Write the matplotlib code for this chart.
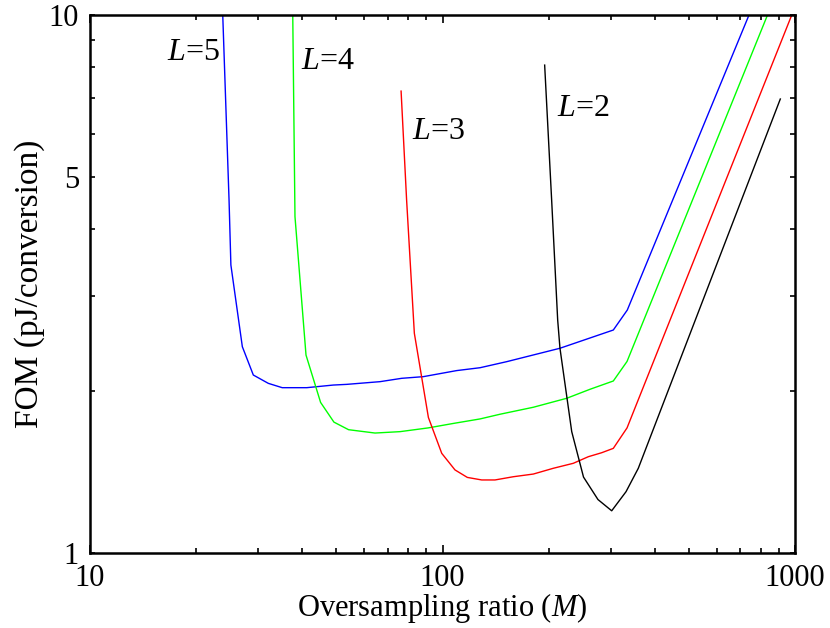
import matplotlib
matplotlib.use("Agg")
import matplotlib.pyplot as plt
from matplotlib.ticker import FixedLocator, NullFormatter, FixedFormatter

plt.rcParams['font.family'] = ['Liberation Serif', 'DejaVu Serif']
plt.rcParams['mathtext.fontset'] = 'custom'
plt.rcParams['mathtext.rm'] = 'Liberation Serif'
plt.rcParams['mathtext.it'] = 'Liberation Serif:italic'

# ---- data ----
m_L5 = [23.8, 24.8, 25.1, 27.05, 29.06, 32.05, 35.1, 41.2, 49.0, 53.5, 66.5, 76.6, 88.2,
        109.7, 127.8, 152.1, 215.4, 305.2, 334.4, 740.5]
fom_L5 = [10.0, 4.53, 3.43, 2.418, 2.142, 2.067, 2.029, 2.029, 2.052, 2.058, 2.082, 2.112, 2.127,
          2.183, 2.21, 2.268, 2.402, 2.597, 2.829, 10.0]

m_L4 = [37.6, 38.15, 41.0, 45.1, 49.2, 54.15, 64.35, 75.8, 91.0, 107.3, 127.8, 145.6, 181.0,
        225.1, 262.0, 305.2, 333.8, 835.6]
fom_L4 = [10.0, 4.22, 2.333, 1.905, 1.751, 1.695, 1.671, 1.681, 1.708, 1.741, 1.775, 1.811, 1.866,
          1.939, 2.015, 2.088, 2.27, 10.0]

m_L3 = [76.3, 79.1, 83.2, 91.2, 99.5, 108.5, 117.6, 129.2, 140.9, 158.8, 181.0, 206.2, 235.0,
        259.2, 282.9, 305.2, 333.8, 985.0]
fom_L3 = [7.22, 4.53, 2.561, 1.786, 1.532, 1.427, 1.382, 1.367, 1.367, 1.386, 1.402, 1.437, 1.468,
          1.510, 1.536, 1.565, 1.708, 10.1]

m_L2 = [194.9, 204.0, 212.2, 215.4, 232.6, 251.2, 276.1, 302.0, 331.6, 359.3, 908.5]
fom_L2 = [8.07, 4.53, 2.711, 2.402, 1.681, 1.384, 1.257, 1.198, 1.300, 1.437, 6.98]

series = [(m_L5, fom_L5, '#0000ff'), (m_L4, fom_L4, '#00ff00'),
          (m_L3, fom_L3, '#ff0000'), (m_L2, fom_L2, '#000000')]

labels = [r'$L$=5', r'$L$=4', r'$L$=3', r'$L$=2']
label_pos = [(0.147, 0.931), (0.3376, 0.914), (0.4936, 0.784), (0.6993, 0.827)]

x_major = [10, 100, 1000]
x_minor = [20, 30, 40, 50, 60, 70, 80, 90, 200, 300, 400, 500, 600, 700, 800, 900]
y_major = [1, 5, 10]
y_minor = [2, 3, 4, 6, 7, 8, 9]

# ---- figure ----
fig = plt.figure(figsize=(8.3, 6.28), dpi=100)
ax = fig.add_axes([90/830, 1-553/628, 705/830, 538/628])

for m, f, c in series:
    ax.plot(m, f, color=c, lw=1.0)

ax.set_xscale('log')
ax.set_yscale('log')
ax.set_xlim(10, 1000)
ax.set_ylim(1, 10)

ax.xaxis.set_major_locator(FixedLocator(x_major))
ax.xaxis.set_major_formatter(FixedFormatter([str(v) for v in x_major]))
ax.xaxis.set_minor_locator(FixedLocator(x_minor))
ax.xaxis.set_minor_formatter(NullFormatter())
ax.yaxis.set_major_locator(FixedLocator(y_major))
ax.yaxis.set_major_formatter(FixedFormatter([str(v) for v in y_major]))
ax.yaxis.set_minor_locator(FixedLocator(y_minor))
ax.yaxis.set_minor_formatter(NullFormatter())

ax.tick_params(axis='both', which='both', direction='in', top=True, right=True,
               labelsize=22, pad=8, width=1.2)
ax.tick_params(axis='x', which='major', length=6)
ax.tick_params(axis='x', which='minor', length=3.5)
ax.tick_params(axis='y', which='both', length=3.5)
for s in ax.spines.values():
    s.set_linewidth(1.8)

ax.set_xlabel(r'Oversampling ratio ($M$)', fontsize=22)
ax.set_ylabel('FOM (pJ/conversion)', fontsize=24)
ax.xaxis.set_label_coords(0.5, -0.07)
ax.yaxis.set_label_coords(-0.064, 0.5)

for t, (px, py) in zip(labels, label_pos):
    ax.text(px, py, t, transform=ax.transAxes, fontsize=23, ha='center', va='center')

fig.savefig('out.png', dpi=100)
